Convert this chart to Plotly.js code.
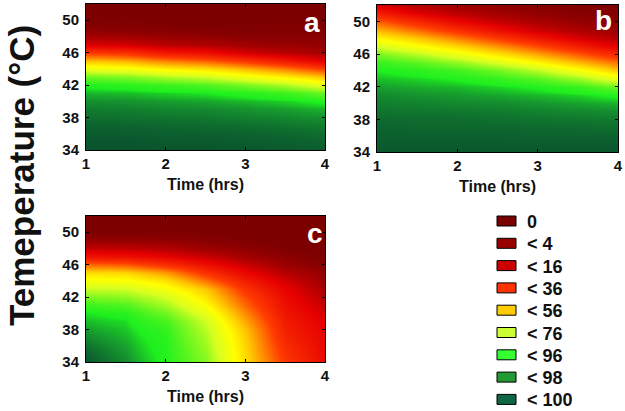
<!DOCTYPE html>
<html>
<head>
<meta charset="utf-8">
<script src="https://cdn.plot.ly/plotly-3.0.1.min.js"></script>
<style>
html,body{margin:0;padding:0;background:#fff;}
#chart{width:625px;height:411px;}
</style>
</head>
<body>
<div id="chart"></div>
<script>
// ---- data ----
const times = [1, 1.5, 2, 2.5, 3, 3.5, 4];
const temps = [34, 35, 36, 37, 38, 39, 40, 41, 42, 43, 44, 45, 46, 47, 48, 49, 50, 51, 52];

// panel a : rows = temperature, columns = time
const zA = [
  [100, 100, 100, 100, 100, 99.9, 99.8],
  [100, 100, 99.9, 99.9, 99.8, 99.7, 99.6],
  [99.8, 99.8, 99.7, 99.7, 99.6, 99.5, 99.3],
  [99.6, 99.6, 99.5, 99.4, 99.3, 99.1, 98.9],
  [99.3, 99.2, 99.1, 99.0, 98.8, 98.6, 98.3],
  [98.9, 98.8, 98.6, 98.5, 98.2, 97.9, 97.4],
  [98.3, 98.2, 97.9, 97.7, 97.3, 96.7, 95.5],
  [97.4, 97.2, 96.7, 96.2, 95.0, 93, 88],
  [95.5, 94.8, 93, 91, 86.6, 81, 72],
  [88, 85.9, 81, 77.4, 70.4, 64, 56],
  [72, 69.6, 64, 60.8, 54, 46, 36],
  [56, 53, 46, 41.6, 33.8, 25, 16],
  [36, 32.7, 25, 21, 13.8, 9, 6],
  [15, 13.2, 9, 7.4, 4.7, 3.5, 3],
  [5, 4.4, 3, 2.4, 1.5, 1.5, 1.5],
  [1.5, 1.3, 0.8, 0.6, 0.4, 0.6, 0.5],
  [0.4, 0.3, 0.2, 0.1, 0, 0.2, 0.1],
  [0, 0, 0, 0, 0, 0, 0],
  [0, 0, 0, 0, 0, 0, 0]
];

// panel b
const zB = [
  [100, 100, 100, 100, 100, 100, 100],
  [99.8, 99.8, 99.8, 99.8, 99.8, 99.8, 99.8],
  [99.7, 99.7, 99.7, 99.7, 99.6, 99.6, 99.6],
  [99.6, 99.5, 99.5, 99.5, 99.4, 99.4, 99.3],
  [99.4, 99.3, 99.3, 99.2, 99.1, 99.0, 98.9],
  [99.1, 99.0, 99.0, 98.9, 98.7, 98.5, 98.3],
  [98.8, 98.7, 98.5, 98.4, 98.1, 97.8, 97.4],
  [98.5, 98.2, 98.0, 97.7, 97.3, 96.7, 95.5],
  [97.9, 97.6, 97.3, 96.7, 95.7, 93.5, 88],
  [97.2, 96.7, 95.9, 94.1, 90.2, 83.4, 72],
  [96.0, 94.6, 92.1, 86.9, 78.7, 67.8, 56],
  [93.2, 89.1, 83.1, 74.2, 64.2, 53.4, 42.7],
  [86.2, 79.4, 70.4, 61.1, 50.7, 40, 28.7],
  [75.6, 67.2, 58.4, 48, 37.4, 25.7, 15],
  [64.5, 56, 45.4, 34.5, 23, 13.4, 7.7],
  [53.4, 42.7, 31.6, 20.3, 11.8, 6.6, 3.7],
  [40, 28.7, 17.6, 10.2, 5.6, 3.1, 1.5],
  [25.7, 15, 8.7, 4.7, 2.7, 1.3, 0.7],
  [13.4, 7.7, 4.2, 2.3, 1.1, 0.6, 0.3]
];

// panel c
const zC = [
  [100, 98.4, 95.5, 85, 60, 34.5, 19],
  [99.7, 98.1, 95.3, 83.8, 59.2, 32.5, 18.4],
  [99.2, 97.8, 95.0, 82.4, 58.3, 30.6, 17.8],
  [98.6, 97.4, 94.6, 80.9, 57.3, 28.6, 17.2],
  [98.0, 97.0, 93.8, 79.2, 55.6, 26.7, 16.5],
  [97.2, 96.4, 91.5, 76.8, 51.5, 24.7, 15.5],
  [96.3, 95.0, 87, 72, 47, 22.7, 13.1],
  [93, 90.5, 81.5, 65.9, 42.3, 20.8, 10.7],
  [86, 84, 76.2, 60.9, 38.1, 18.8, 8.3],
  [78, 77, 68.8, 56, 32.6, 16.8, 5.9],
  [69, 67.6, 61.2, 44.3, 25.7, 13.2, 3.7],
  [60.3, 59.1, 50.2, 32.7, 18.7, 8.3, 2.5],
  [43.5, 41, 32.4, 21.4, 11.8, 3.8, 1.2],
  [23.3, 22, 17.2, 11.7, 5.0, 2.1, 0.2],
  [10, 9.5, 7.4, 3.8, 2.3, 0.3, 0.1],
  [2.9, 2.8, 2.4, 1.5, 0.3, 0.1, 0],
  [0.3, 0.3, 0.3, 0.2, 0.1, 0, 0],
  [0, 0, 0, 0, 0, 0, 0],
  [0, 0, 0, 0, 0, 0, 0]
];

const xTicks = [1, 2, 3, 4];
const yTicks = [34, 38, 42, 46, 50];
const panelLabels = ['a', 'b', 'c'];
const legendLabels = ['0', '< 4', '< 16', '< 36', '< 56', '< 76', '< 96', '< 98', '< 100'];
const legendColors = ['#7a0000', '#990000', '#cc0000', '#ff3300', '#ffcc00', '#ccff33', '#33ff33', '#229933', '#106644'];

// ---- styling ----
const W = 625, H = 411;
const FONT = 'Liberation Sans, Arial, Helvetica, sans-serif';
const colorscale = [
  [0, '#7c0000'], [0.04, '#9c0000'], [0.16, '#e60000'], [0.36, '#ff3c00'],
  [0.56, '#ffc800'], [0.66, '#ffff00'], [0.76, '#d8ff20'], [0.96, '#1ef01e'],
  [0.98, '#169a2e'], [1, '#0a552e']
];

const px = v => v / W;
const py = v => 1 - v / H;

const boxes = [
  {x: [86, 325], y: [4, 150]},
  {x: [377, 618], y: [5, 152]},
  {x: [86, 325], y: [216, 362]}
];

function xAxis(b, anchor) {
  return {
    domain: [px(b.x[0]), px(b.x[1])], anchor: anchor,
    range: [1, 4], tickvals: xTicks, ticktext: xTicks.map(String),
    ticks: 'inside', ticklen: 3, tickcolor: '#000',
    showline: true, linecolor: '#000', linewidth: 1, mirror: 'ticks',
    showgrid: false, zeroline: false, fixedrange: true,
    tickfont: {family: FONT, size: 15, weight: 'bold', color: '#111'},
    title: {text: 'Time (hrs)', font: {family: FONT, size: 16, weight: 'bold', color: '#111'}, standoff: 7}
  };
}
function yAxis(b, anchor) {
  return {
    domain: [py(b.y[1]), py(b.y[0])], anchor: anchor,
    range: [34, 52], tickvals: yTicks, ticktext: yTicks.map(String),
    ticks: 'inside', ticklen: 3, tickcolor: '#000',
    showline: true, linecolor: '#000', linewidth: 1, mirror: 'ticks',
    showgrid: false, zeroline: false, fixedrange: true, ticklabelstandoff: 3,
    tickfont: {family: FONT, size: 15, weight: 'bold', color: '#111'}
  };
}

const zs = [zA, zB, zC];
const axIds = [['x', 'y'], ['x2', 'y2'], ['x3', 'y3']];
const traces = zs.map((z, i) => ({
  type: 'heatmap', x: times, y: temps, z: z,
  zmin: 0, zmax: 100, colorscale: colorscale, zsmooth: 'best',
  showscale: false, hoverinfo: 'skip',
  xaxis: axIds[i][0], yaxis: axIds[i][1]
}));

const labelPos = [[312, 22], [603.5, 20.5], [315, 233]];
const annotations = panelLabels.map((t, i) => ({
  text: t, xref: 'paper', yref: 'paper',
  x: px(labelPos[i][0]), y: py(labelPos[i][1]), xanchor: 'center', yanchor: 'middle',
  showarrow: false, font: {family: FONT, size: 28, weight: 'bold', color: '#ffffff'}
}));

annotations.push({
  text: 'Temeperature (°C)', xref: 'paper', yref: 'paper',
  x: px(22), y: py(176), xanchor: 'center', yanchor: 'middle', textangle: -90,
  showarrow: false, font: {family: FONT, size: 35, weight: 'bold', color: '#111'}
});

const shapes = [];
legendLabels.forEach((lab, i) => {
  const yc = 221 + i * 22.3;
  shapes.push({
    type: 'rect', xref: 'paper', yref: 'paper',
    x0: px(497), x1: px(516), y0: py(yc + 5), y1: py(yc - 5),
    fillcolor: legendColors[i], line: {color: '#000', width: 1}
  });
  annotations.push({
    text: lab, xref: 'paper', yref: 'paper', x: px(525), y: py(yc + 1),
    xanchor: 'left', yanchor: 'middle', showarrow: false,
    font: {family: FONT, size: 18, weight: 'bold', color: '#111'}
  });
});

const layout = {
  width: W, height: H,
  margin: {l: 0, r: 0, t: 0, b: 0},
  paper_bgcolor: '#fff', plot_bgcolor: '#fff',
  showlegend: false,
  xaxis: xAxis(boxes[0], 'y'), yaxis: yAxis(boxes[0], 'x'),
  xaxis2: xAxis(boxes[1], 'y2'), yaxis2: yAxis(boxes[1], 'x2'),
  xaxis3: xAxis(boxes[2], 'y3'), yaxis3: yAxis(boxes[2], 'x3'),
  annotations: annotations, shapes: shapes
};

Plotly.newPlot('chart', traces, layout, {staticPlot: true, displayModeBar: false});
</script>
</body>
</html>
